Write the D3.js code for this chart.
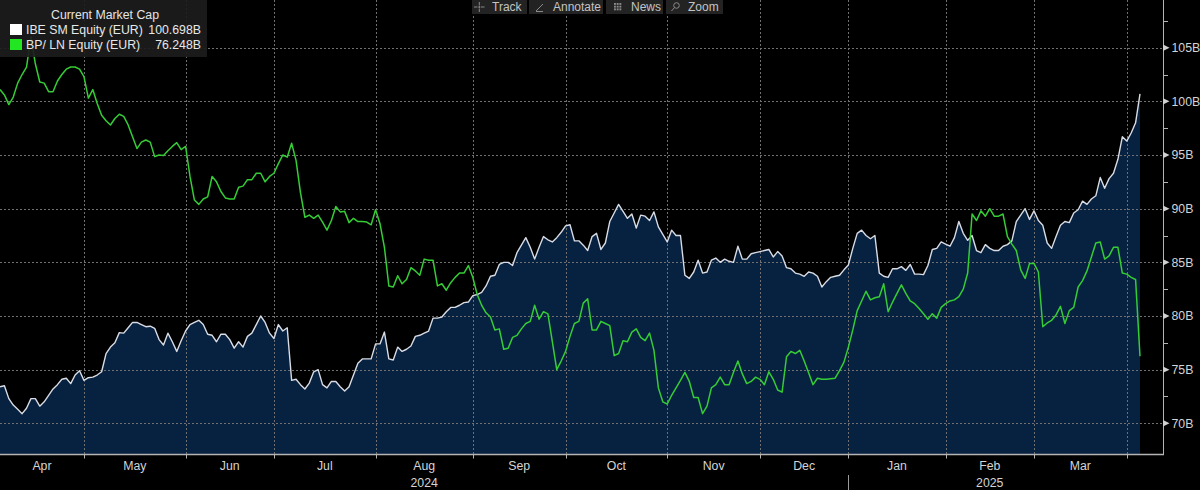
<!DOCTYPE html>
<html><head><meta charset="utf-8">
<script src="https://cdn.jsdelivr.net/npm/d3@7"></script>
<style>
html,body{margin:0;padding:0;background:#000;overflow:hidden;}
svg{display:block;font-family:"Liberation Sans",Arial,sans-serif;}
</style></head><body>
<svg id="chart" width="1200" height="490"></svg>
<script>
// ---------- data ----------
const startDate = "2024-04-04";
const endDate = "2025-04-04";
const holidays = ["2024-12-25", "2024-12-26", "2025-01-01"];
const monthLabels = ["Apr","May","Jun","Jul","Aug","Sep","Oct","Nov","Dec","Jan","Feb","Mar"];
const yearLabels = [["2024", "Aug"], ["2025", "Feb"]];
const yTicks = [70, 75, 80, 85, 90, 95, 100, 105];
const yMinorTicks = [72.5, 77.5, 82.5, 87.5, 92.5, 97.5, 102.5, 107.5];
const legendTitle = "Current Market Cap";
const seriesNames = ["IBE SM Equity (EUR)", "BP/ LN Equity (EUR)"];
const toolbarItems = ["Track", "Annotate", "News", "Zoom"];

// IBE SM market cap (EUR bn), one value per trading day
const ibeValues = [
73.4,73.5,72.3,71.7,71.3,70.9,71.4,72.3,72.3,71.6,72.0,72.6,73.2,73.6,74.1,74.2,73.7,74.5,74.9,74.0,
74.25,74.3,74.5,74.8,76.5,77.1,77.5,78.45,78.4,78.9,79.4,79.4,79.2,79.0,79.05,78.85,77.8,77.3,78.4,77.6,
76.7,77.7,78.6,79.2,79.4,79.6,79.2,78.3,78.2,77.6,78.3,78.3,77.8,77.0,77.6,77.1,78.1,78.4,79.2,80.0,
79.4,78.4,77.9,79.2,78.6,78.9,74.0,74.1,73.6,73.2,73.75,74.8,75.0,73.6,73.3,73.9,73.9,73.4,73.0,73.4,
74.5,75.6,76.0,76.0,76.0,77.4,77.4,78.5,76.0,75.9,77.1,76.7,76.9,77.2,78.1,78.2,78.4,78.6,79.8,79.8,
79.9,80.4,80.8,80.8,81.0,81.25,81.3,81.9,82.0,82.2,82.8,83.7,83.8,84.8,85.0,85.0,84.7,85.9,86.6,87.3,
86.4,85.3,86.4,87.4,87.1,86.9,87.3,87.8,88.4,88.5,87.0,87.0,86.6,86.1,87.4,87.7,86.2,86.8,88.8,89.6,
90.4,89.75,89.1,89.5,88.2,89.4,89.3,88.9,89.7,88.3,87.6,86.9,88.0,87.5,87.5,83.8,83.5,84.1,85.2,84.0,
84.1,85.2,85.4,85.0,85.3,85.1,85.0,86.5,85.3,85.3,85.8,85.9,86.0,86.1,86.2,85.5,86.0,85.6,84.5,84.4,
84.0,83.9,83.7,84.1,84.0,83.7,82.7,83.2,83.6,83.7,83.8,84.3,84.75,86.3,87.7,88.0,87.5,87.2,87.5,84.0,
83.7,83.6,84.4,84.4,84.6,84.25,84.8,83.9,83.9,83.85,84.7,86.2,86.3,86.9,86.7,86.5,87.3,88.8,87.7,87.05,
87.5,86.1,85.9,86.65,86.3,86.1,86.1,86.5,86.65,87.0,88.8,89.4,90.0,89.0,89.8,88.9,88.45,86.8,86.3,87.4,
88.45,88.8,88.7,89.6,89.9,90.7,90.4,90.9,91.2,92.9,91.9,92.8,93.3,94.6,96.7,96.3,97.05,98.0,100.698
];

// BP/ LN market cap (EUR bn), one value per trading day
const bpValues = [
101.1,100.6,99.7,100.4,101.7,102.5,103.2,106.0,103.5,101.8,101.7,100.9,100.9,101.9,102.5,103.0,103.2,103.2,103.0,102.3,
100.3,101.1,99.8,98.7,98.2,97.8,98.4,98.8,98.6,97.8,96.7,95.6,96.2,96.4,96.2,94.85,95.0,94.95,95.4,95.8,
96.15,95.5,95.8,93.0,90.8,90.4,90.9,91.1,93.0,92.5,91.6,91.0,90.9,90.9,92.0,92.1,92.7,92.7,93.3,93.3,
92.5,93.0,93.3,94.2,95.0,94.8,96.1,94.5,91.5,89.2,89.4,89.1,89.4,88.75,88.0,88.9,90.2,89.7,89.75,88.7,
89.1,88.8,88.8,88.75,88.5,89.9,88.6,86.4,82.8,82.7,83.75,83.0,83.4,84.5,84.2,83.8,85.3,85.2,85.2,82.8,
83.0,82.4,83.1,83.6,84.0,84.0,84.7,83.6,82.0,81.0,80.3,79.9,78.7,78.8,76.9,77.0,78.0,78.2,78.8,79.3,
79.5,81.0,79.7,80.4,80.2,77.6,75.0,75.8,76.7,78.1,79.3,79.5,81.2,81.6,78.7,78.7,79.5,79.3,79.1,76.3,
76.5,77.7,77.6,78.5,78.8,78.0,77.7,78.4,76.8,73.3,72.0,71.8,72.6,73.3,74.0,74.75,73.9,72.4,72.4,70.9,
71.6,73.3,73.6,74.3,73.6,73.6,74.75,75.8,74.6,73.7,73.9,74.3,74.1,73.6,74.8,74.1,73.1,72.9,76.2,76.7,
76.5,76.8,75.8,74.7,73.6,74.2,74.1,74.1,74.15,74.2,74.9,75.7,77.1,78.7,80.5,81.4,82.3,81.5,81.7,81.8,
83.0,80.4,81.3,82.1,82.9,82.1,81.4,81.15,80.7,80.2,79.7,80.2,79.8,80.8,81.15,81.4,81.5,81.8,82.5,84.0,
89.5,88.9,89.8,89.3,90.0,89.3,89.3,89.5,87.4,86.7,86.1,84.3,83.5,84.9,84.9,84.1,79.0,79.35,79.6,80.1,
80.9,79.3,80.5,80.8,82.7,83.3,84.2,85.5,86.8,86.9,85.3,85.6,86.4,86.4,84.0,83.9,83.6,83.4,76.248
];

// ---------- trading-day calendar ----------
const parse = d3.utcParse("%Y-%m-%d"), fmtDay = d3.utcFormat("%Y-%m-%d");
const days = d3.utcDays(parse(startDate), d3.utcDay.offset(parse(endDate), 1))
  .filter(d => d.getUTCDay() !== 0 && d.getUTCDay() !== 6 && !holidays.includes(fmtDay(d)));

// ---------- layout ----------
const plotRight = 1163, plotBottom = 454, dataRight = 1140;
const fs = 12.3;
const svg = d3.select("#chart");
svg.append("rect").attr("width", 1200).attr("height", 490).attr("fill", "#000");

const x = d3.scaleLinear().domain([0, days.length - 1]).range([0, dataRight]);
const y = d3.scaleLinear().domain([70, 105]).range([423.3, 47.7]);

// month boundaries (first trading day of each month)
const monthStarts = [];
for (let i = 1; i < days.length; i++) {
  if (days[i].getUTCMonth() !== days[i - 1].getUTCMonth()) monthStarts.push(i);
}
const bounds = [0, ...monthStarts];

// ---------- area fill ----------
svg.append("path").datum(ibeValues)
  .attr("fill", "#072141")
  .attr("d", d3.area().x((d, i) => x(i)).y0(plotBottom).y1(d => y(d)));

// ---------- grid ----------
const grid = svg.append("g").attr("stroke", "#707070").attr("stroke-width", 1)
  .attr("stroke-dasharray", "1.5,2.5").attr("shape-rendering", "crispEdges");
yTicks.forEach(v => {
  const yy = Math.round(y(v)) + 0.5;
  grid.append("line").attr("x1", 0).attr("x2", plotRight).attr("y1", yy).attr("y2", yy);
});
monthStarts.forEach(i => {
  const xx = Math.round(x(i)) + 0.5;
  grid.append("line").attr("x1", xx).attr("x2", xx).attr("y1", 0).attr("y2", plotBottom);
});

// ---------- lines ----------
const line = d3.line().x((d, i) => x(i)).y(d => y(d));
svg.append("path").datum(ibeValues).attr("fill", "none")
  .attr("stroke", "#d9dce4").attr("stroke-width", 1.4).attr("stroke-linejoin", "round").attr("d", line);
svg.append("path").datum(bpValues).attr("fill", "none")
  .attr("stroke", "#35cc35").attr("stroke-width", 1.5).attr("stroke-linejoin", "round").attr("d", line);

// ---------- right axis ----------
const axisColor = "#b4b4b4", labelColor = "#d4d4d4";
svg.append("line").attr("x1", plotRight + 0.5).attr("x2", plotRight + 0.5)
  .attr("y1", 0).attr("y2", plotBottom + 1).attr("stroke", axisColor).attr("stroke-width", 1);
const yAxis = svg.append("g");
yTicks.forEach(v => {
  const yy = y(v);
  yAxis.append("path").attr("d", `M${plotRight},${yy - 3.2}L${plotRight + 6.5},${yy}L${plotRight},${yy + 3.2}Z`)
    .attr("fill", "#d0d0d0");
  yAxis.append("text").attr("x", plotRight + 8.5).attr("y", yy).attr("dy", "0.36em")
    .attr("font-size", fs).attr("fill", labelColor).text(v + "B");
});
yMinorTicks.forEach(v => {
  const yy = Math.round(y(v)) + 0.5;
  yAxis.append("line").attr("x1", plotRight).attr("x2", plotRight + 5).attr("y1", yy).attr("y2", yy)
    .attr("stroke", axisColor);
});

// ---------- bottom axis ----------
svg.append("line").attr("x1", 0).attr("x2", plotRight + 1).attr("y1", plotBottom + 0.5).attr("y2", plotBottom + 0.5)
  .attr("stroke", axisColor).attr("stroke-width", 1.6);
monthStarts.forEach(i => {
  const xx = Math.round(x(i)) + 0.5;
  svg.append("line").attr("x1", xx).attr("x2", xx).attr("y1", plotBottom).attr("y2", plotBottom + 4.5)
    .attr("stroke", axisColor);
});
monthLabels.forEach((m, k) => {
  const cx = (x(bounds[k]) + x(bounds[k + 1])) / 2;
  svg.append("text").attr("x", cx).attr("y", 470).attr("text-anchor", "middle")
    .attr("font-size", fs).attr("fill", labelColor).text(m);
});
yearLabels.forEach(([yr, m]) => {
  const k = monthLabels.indexOf(m);
  const cx = (x(bounds[k]) + x(bounds[k + 1])) / 2;
  svg.append("text").attr("x", cx).attr("y", 487).attr("text-anchor", "middle")
    .attr("font-size", fs).attr("fill", labelColor).text(yr);
});
// year divider at first trading day of the new year
const yearStart = monthStarts.find(i => days[i].getUTCFullYear() !== days[0].getUTCFullYear());
svg.append("line").attr("x1", Math.round(x(yearStart)) + 0.5).attr("x2", Math.round(x(yearStart)) + 0.5)
  .attr("y1", 475).attr("y2", 490).attr("stroke", "#9a9a9a");

// ---------- legend ----------
const lg = svg.append("g");
lg.append("rect").attr("x", 0).attr("y", 0).attr("width", 207).attr("height", 57)
  .attr("fill", "#1c1c1c").attr("opacity", 0.92);
lg.append("text").attr("x", 105).attr("y", 18.5).attr("text-anchor", "middle")
  .attr("font-size", fs).attr("fill", "#e4e4e4").text(legendTitle);
const legendColors = ["#ffffff", "#22e622"];
const lastVals = [ibeValues[ibeValues.length - 1], bpValues[bpValues.length - 1]];
seriesNames.forEach((n, k) => {
  const yy = 24 + k * 15;
  lg.append("rect").attr("x", 10).attr("y", yy).attr("width", 12).attr("height", 11).attr("fill", legendColors[k]);
  lg.append("text").attr("x", 26).attr("y", yy + 10).attr("font-size", fs).attr("fill", "#e8e8e8").text(n);
  lg.append("text").attr("x", 201).attr("y", yy + 10).attr("text-anchor", "end")
    .attr("font-size", fs).attr("fill", "#e8e8e8").text(d3.format(".3f")(lastVals[k]) + "B");
});

// ---------- toolbar ----------
const tb = svg.append("g");
const segs = [[472, 527, 492], [529, 603, 553], [606, 663, 631], [666, 723, 688]];
segs.forEach(([a, b, t], k) => {
  tb.append("rect").attr("x", a).attr("y", 0).attr("width", b - a).attr("height", 14).attr("fill", "#232323");
  tb.append("text").attr("x", t).attr("y", 10.5).attr("font-size", 12).attr("fill", "#c4c4c4").text(toolbarItems[k]);
});
const ic = tb.append("g").attr("stroke", "#8a8a8a").attr("fill", "none").attr("stroke-width", 1);
// crosshair
ic.append("path").attr("d", "M474,7H477.5M481,7H484.5M479.3,2V5.5M479.3,8.5V12");
ic.append("circle").attr("cx", 479.3).attr("cy", 7).attr("r", 1).attr("fill", "#8a8a8a").attr("stroke", "none");
// pencil
ic.append("path").attr("d", "M536,11L543,4M536,11.5H543");
// news grid
[0, 1, 2].forEach(r => [0, 1, 2].forEach(c => {
  ic.append("rect").attr("x", 614 + c * 2.7).attr("y", 3 + r * 2.7).attr("width", 1.9).attr("height", 1.9)
    .attr("fill", "#8a8a8a").attr("stroke", "none");
}));
// magnifier
ic.append("circle").attr("cx", 676.5).attr("cy", 5.5).attr("r", 2.8);
ic.append("path").attr("d", "M674.5,7.5L671.5,11");
</script>
</body></html>
